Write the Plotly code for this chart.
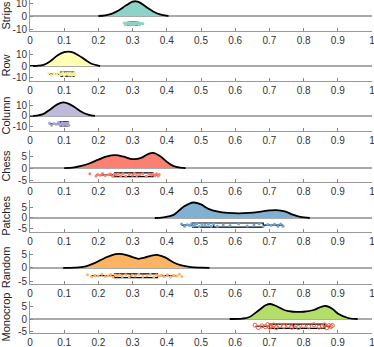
import plotly.graph_objects as go

# raincloud plot, one panel per layout
names = ['Strips', 'Row', 'Column', 'Chess', 'Patches', 'Random', 'Monocrop']
colors = ['#8dd3c7', '#ffffb3', '#bebada', '#fb8072', '#80b1d3', '#fdb462', '#b3de69']
pointColors = ['#8dd3c7', '#f5f09a', '#a9a4d6', '#fb8072', '#6fa6d0', '#fdb462', '#f05a3c']

# density curves (x, density)
strips_x = [0.20, 0.22, 0.24, 0.26, 0.28, 0.30, 0.31, 0.32, 0.34, 0.36, 0.38, 0.40, 0.405]
strips_d = [0.0, 0.5, 1.9, 4.4, 8.0, 11.0, 11.3, 10.5, 7.0, 3.5, 1.2, 0.3, 0.0]
row_x = [0.0, 0.02, 0.04, 0.06, 0.08, 0.10, 0.112, 0.125, 0.14, 0.16, 0.18, 0.20, 0.205]
row_d = [0.0, 0.2, 1.0, 4.5, 9.5, 12.5, 13.0, 12.4, 10.0, 6.0, 2.0, 0.3, 0.0]
column_x = [0.0, 0.02, 0.04, 0.06, 0.08, 0.097, 0.11, 0.13, 0.15, 0.17, 0.19]
column_d = [0.0, 0.4, 2.0, 6.5, 11.0, 13.0, 12.0, 8.5, 4.0, 1.2, 0.0]
chess_x = [0.10, 0.13, 0.15, 0.175, 0.20, 0.225, 0.25, 0.275, 0.30, 0.325, 0.345, 0.36, 0.38, 0.40, 0.42, 0.44, 0.455]
chess_d = [0.0, 0.3, 0.9, 2.0, 3.5, 4.9, 5.4, 4.7, 3.7, 4.2, 5.8, 6.3, 5.0, 2.6, 0.8, 0.15, 0.0]
patches_x = [0.365, 0.39, 0.42, 0.45, 0.478, 0.50, 0.52, 0.55, 0.58, 0.61, 0.64, 0.67, 0.70, 0.72, 0.745, 0.77, 0.79, 0.818]
patches_d = [0.0, 0.3, 1.5, 5.5, 7.4, 6.5, 4.5, 3.0, 2.4, 2.2, 2.4, 2.9, 3.6, 3.8, 3.2, 1.5, 0.5, 0.0]
random_x = [0.097, 0.13, 0.16, 0.19, 0.22, 0.24, 0.258, 0.28, 0.30, 0.317, 0.335, 0.355, 0.375, 0.395, 0.42, 0.44, 0.47, 0.50, 0.525]
random_d = [0.0, 0.1, 0.5, 1.9, 3.8, 4.8, 5.2, 4.9, 4.0, 3.4, 3.8, 4.6, 4.8, 3.9, 2.0, 1.0, 0.3, 0.08, 0.0]
monocrop_x = [0.584, 0.62, 0.64, 0.67, 0.69, 0.703, 0.72, 0.745, 0.77, 0.80, 0.83, 0.85, 0.866, 0.885, 0.90, 0.93, 0.958]
monocrop_d = [0.0, 0.15, 0.7, 3.6, 5.6, 6.0, 5.2, 3.5, 2.9, 2.9, 3.6, 4.8, 5.2, 4.0, 2.2, 0.4, 0.0]

# raw values (the rain)
strips_pts = [0.276, 0.279, 0.282, 0.284, 0.286, 0.288, 0.290, 0.292, 0.294, 0.296, 0.298, 0.300,
              0.301, 0.303, 0.305, 0.307, 0.309, 0.311, 0.313, 0.315, 0.318, 0.321, 0.325, 0.330]
row_pts = [0.055, 0.062, 0.070, 0.078, 0.085, 0.089, 0.092, 0.096, 0.100, 0.104, 0.107, 0.110,
           0.114, 0.118, 0.122, 0.125, 0.128, 0.130, 0.132]
column_pts = [0.057, 0.063, 0.070, 0.077, 0.083, 0.087, 0.090, 0.094, 0.097, 0.100, 0.103, 0.106,
              0.109, 0.111, 0.113]
chess_pts = [0.175, 0.193, 0.198, 0.205, 0.212, 0.220, 0.228, 0.235, 0.242, 0.247, 0.252, 0.258,
             0.265, 0.272, 0.280, 0.290, 0.300, 0.305, 0.312, 0.320, 0.330, 0.340, 0.348, 0.355,
             0.360, 0.365, 0.370, 0.375, 0.378]
patches_pts = [0.443, 0.452, 0.460, 0.467, 0.472, 0.477, 0.482, 0.488, 0.495, 0.503, 0.512, 0.522,
               0.530, 0.537, 0.548, 0.565, 0.585, 0.610, 0.635, 0.655, 0.670, 0.682, 0.695, 0.705,
               0.715, 0.725, 0.733, 0.740]
random_pts = [0.168, 0.180, 0.190, 0.200, 0.210, 0.220, 0.228, 0.236, 0.243, 0.249, 0.255, 0.262,
              0.270, 0.280, 0.290, 0.298, 0.308, 0.318, 0.330, 0.342, 0.352, 0.362, 0.370, 0.376,
              0.384, 0.392, 0.402, 0.412, 0.420, 0.429, 0.437, 0.444]
monocrop_pts = [0.658, 0.668, 0.678, 0.688, 0.695, 0.700, 0.705, 0.712, 0.720, 0.730, 0.742, 0.755,
                0.765, 0.772, 0.785, 0.800, 0.815, 0.830, 0.845, 0.855, 0.862, 0.868, 0.874, 0.880,
                0.884]

# box stats: q1, median, q3, lower whisker, upper whisker
q1 = [0.286, 0.090, 0.088, 0.247, 0.475, 0.247, 0.700]
med = [0.300, 0.107, 0.100, 0.302, 0.537, 0.295, 0.771]
q3 = [0.314, 0.129, 0.112, 0.360, 0.682, 0.373, 0.862]
lowW = [0.278, 0.056, 0.056, 0.193, 0.443, 0.180, 0.659]
highW = [0.330, 0.132, 0.114, 0.378, 0.740, 0.429, 0.880]

densX = [strips_x, row_x, column_x, chess_x, patches_x, random_x, monocrop_x]
densY = [strips_d, row_d, column_d, chess_d, patches_d, random_d, monocrop_d]
points = [strips_pts, row_pts, column_pts, chess_pts, patches_pts, random_pts, monocrop_pts]

# per-panel layout: box centre / height, y range, pixel top/bottom
boxPos = [-5.9, -7.3, -7.6, -2.8, -3.4, -2.9, -2.9]
boxH = [2.5, 3.6, 3.8, 1.6, 2.0, 1.4, 1.7]
yRanges = [[-11.5, 12.3], [-13.6, 14.5], [-14.3, 15.2], [-5.8, 7.5], [-6.7, 8.6], [-6.0, 6.3], [-5.6, 7.2]]
tops = [0, 50, 100, 150, 200, 251, 301]
bottoms = [31, 81, 131, 182, 232, 284, 333]
jitter = [0.25, -0.3, 0.1, -0.1, 0.35, -0.2, 0.0, 0.3, -0.35, 0.15, -0.05, 0.2, -0.25]

W, H = 374, 347
mT, mB, mL, mR = 0, 14, 30, 2
plotH = H - mT - mB

fig = go.Figure()
layout = {}
for i, name in enumerate(names):
    xa = 'x' if i == 0 else 'x%d' % (i + 1)
    ya = 'y' if i == 0 else 'y%d' % (i + 1)
    fig.add_trace(go.Scatter(x=densX[i], y=densY[i], mode='lines', fill='tozeroy',
                             fillcolor=colors[i], line=dict(color='black', width=1.8, shape='spline'),
                             xaxis=xa, yaxis=ya, showlegend=False, hoverinfo='skip'))
    pts = points[i]
    py = [boxPos[i] + jitter[k % len(jitter)] * boxH[i] for k in range(len(pts))]
    if name == 'Monocrop':
        mk = dict(size=4, color='rgba(0,0,0,0)', line=dict(color=pointColors[i], width=1))
    else:
        mk = dict(size=3, color=pointColors[i], line=dict(width=0))
    fig.add_trace(go.Scatter(x=pts, y=py, mode='markers', marker=mk,
                             xaxis=xa, yaxis=ya, showlegend=False))
    fig.add_trace(go.Box(y=[boxPos[i]], q1=[q1[i]], median=[med[i]], q3=[q3[i]],
                         lowerfence=[lowW[i]], upperfence=[highW[i]], orientation='h',
                         width=boxH[i], whiskerwidth=0, fillcolor='rgba(255,255,255,0)',
                         line=dict(color='black', width=1.2), boxpoints=False,
                         xaxis=xa, yaxis=ya, showlegend=False))
    d0 = (plotH - bottoms[i]) / plotH
    d1 = (plotH - tops[i]) / plotH
    big = yRanges[i][1] > 10
    yt = [-10, 0, 10] if big else [-5, 0, 5]
    layout['xaxis' if i == 0 else 'xaxis%d' % (i + 1)] = dict(
        domain=[0, 1], anchor=ya, range=[0, 1],
        tickvals=[0, 0.1, 0.2, 0.3, 0.4, 0.5, 0.6, 0.7, 0.8, 0.9, 1],
        ticktext=['0', '0.1', '0.2', '0.3', '0.4', '0.5', '0.6', '0.7', '0.8', '0.9', '1'],
        ticks='inside', ticklen=3, tickcolor='#888', showline=True, linecolor='#999', linewidth=1,
        showgrid=False, zeroline=False, automargin=False, ticklabeloverflow='allow',
        tickfont=dict(family='Liberation Sans', size=10, color='#333'))
    layout['yaxis' if i == 0 else 'yaxis%d' % (i + 1)] = dict(
        domain=[d0, d1], anchor=xa, range=yRanges[i],
        tickvals=yt, ticktext=[str(v) for v in yt],
        ticks='inside', ticklen=3, tickcolor='#888', showline=True, linecolor='#999', linewidth=1,
        showgrid=False, zeroline=True, zerolinecolor='#aaa', zerolinewidth=1.5, automargin=False,
        ticklabeloverflow='allow',
        tickfont=dict(family='Liberation Sans', size=10, color='#333'),
        title=dict(text=name, standoff=5, font=dict(family='Liberation Sans', size=11, color='#222')))

fig.update_layout(width=W, height=H, margin=dict(l=mL, r=mR, t=mT, b=mB),
                  plot_bgcolor='white', paper_bgcolor='white', template='none', **layout)
# page body margin would push the figure 8px off the window
fig.write_html("out.html", config={'displayModeBar': False},
               post_script="document.body.style.margin='0';")
